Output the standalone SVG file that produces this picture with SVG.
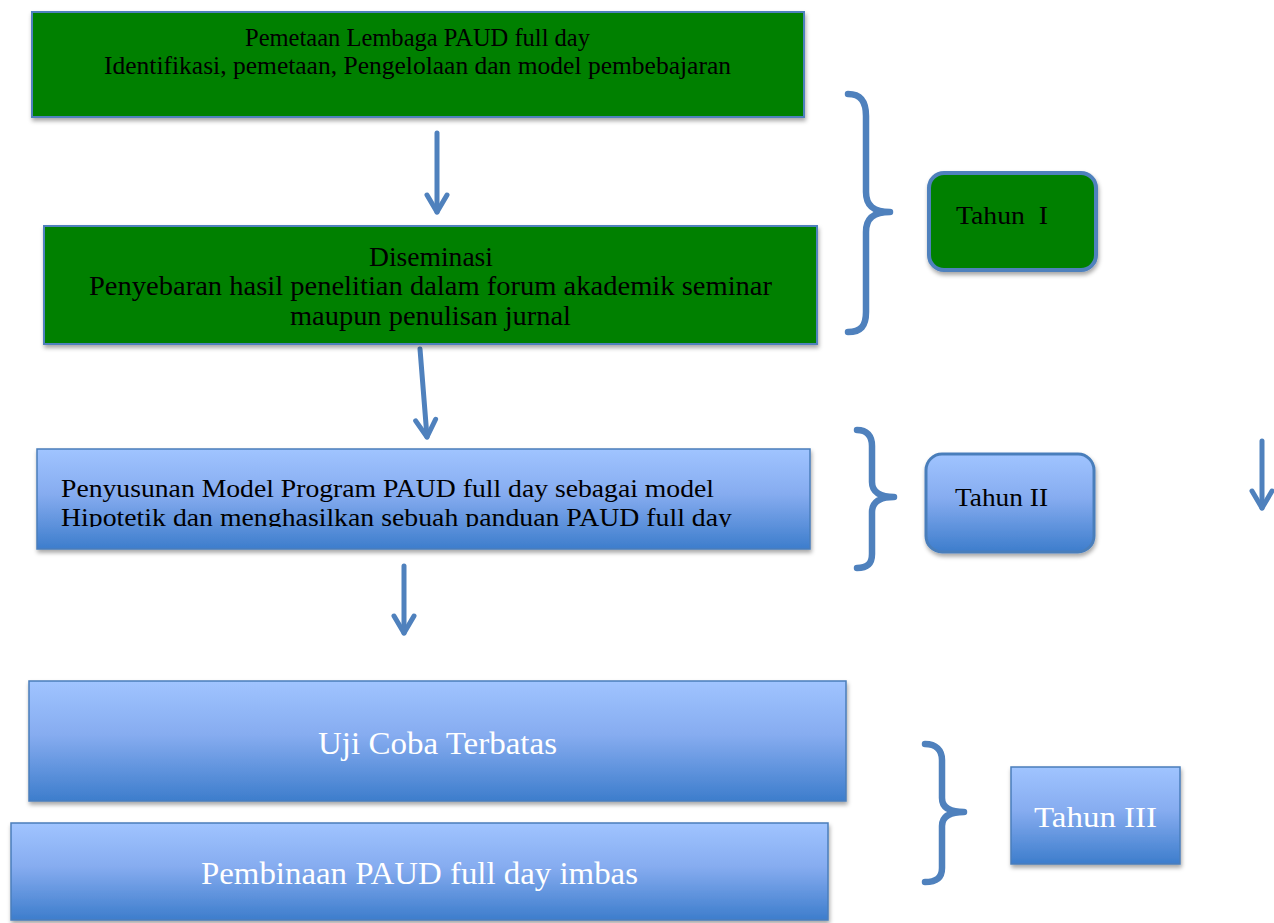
<svg xmlns="http://www.w3.org/2000/svg" width="1274" height="923" viewBox="0 0 1274 923">
  <style>
    .t { font-family: "Liberation Serif", "DejaVu Serif", serif; fill: #000; white-space: pre; }
    .w { fill: #ffffff; }
    .green { fill: #008000; stroke: #4f81bd; stroke-width: 2; }
    .blue { fill: url(#blueGrad); stroke: #4a7ebb; stroke-width: 1.5; }
    .brace { fill: none; stroke: #4f81bd; stroke-width: 6.5; stroke-linecap: round; stroke-linejoin: round; }
    .arrow { fill: none; stroke: #4f81bd; stroke-width: 5; stroke-linecap: round; marker-end: url(#chev); }
  </style>
  <defs>
    <linearGradient id="blueGrad" x1="0" y1="0" x2="0" y2="1">
      <stop offset="0" stop-color="#a0c4ff"/>
      <stop offset="0.45" stop-color="#86acf0"/>
      <stop offset="1" stop-color="#3d7dcc"/>
    </linearGradient>
    <filter id="shadow" x="-5%" y="-10%" width="110%" height="130%">
      <feDropShadow dx="1" dy="3" stdDeviation="2" flood-color="#000" flood-opacity="0.35"/>
    </filter>
    <marker id="chev" markerUnits="userSpaceOnUse" orient="auto" overflow="visible" refX="0" refY="0" markerWidth="1" markerHeight="1">
      <path d="M-17,-10 L0,0 L-17,10" fill="none" stroke="#4f81bd" stroke-width="5" stroke-linecap="round" stroke-linejoin="round"/>
    </marker>
    <clipPath id="clipModel">
      <rect x="37" y="449" width="773" height="78"/>
    </clipPath>
  </defs>

  <!-- flow connectors -->
  <g id="connectors">
    <line class="arrow" x1="437" y1="133" x2="437" y2="212"/>
    <line class="arrow" x1="420" y1="349" x2="427" y2="437"/>
    <line class="arrow" x1="404" y1="566" x2="404" y2="633"/>
    <line class="arrow" x1="1262" y1="441" x2="1262" y2="508"/>
  </g>

  <!-- year braces -->
  <g id="braces">
    <path class="brace" d="M848,94 C861,94 866,102 866,116 L866,192 C866,206 874,212 890,212 C874,212 866,218 866,232 L866,312 C866,326 861,332 848,332"/>
    <path class="brace" d="M857,430 C867,430 872,436 872,446 L872,482 C872,492 880,497 894,497 C880,497 872,502 872,512 L872,554 C872,564 867,568 857,568"/>
    <path class="brace" d="M925,744 C936,744 942,750 942,760 L942,798 C942,808 950,812 964,812 C950,812 942,816 942,826 L942,868 C942,878 936,882 925,882"/>
  </g>

  <g id="pemetaan">
    <rect class="green" x="32" y="12" width="772" height="105" filter="url(#shadow)"/>
    <text class="t" x="245" y="46" font-size="26" textLength="345" lengthAdjust="spacingAndGlyphs">Pemetaan Lembaga PAUD full day</text>
    <text class="t" x="104" y="74" font-size="26" textLength="627" lengthAdjust="spacingAndGlyphs">Identifikasi, pemetaan, Pengelolaan dan model pembebajaran</text>
  </g>

  <g id="diseminasi">
    <rect class="green" x="44" y="226" width="773" height="118" filter="url(#shadow)"/>
    <text class="t" x="369" y="266" font-size="27" textLength="124" lengthAdjust="spacingAndGlyphs">Diseminasi</text>
    <text class="t" x="89" y="295" font-size="27" textLength="683" lengthAdjust="spacingAndGlyphs">Penyebaran hasil penelitian dalam forum akademik seminar</text>
    <text class="t" x="290" y="325" font-size="27" textLength="281" lengthAdjust="spacingAndGlyphs">maupun penulisan jurnal</text>
  </g>

  <g id="penyusunan">
    <rect class="blue" x="37" y="449" width="773" height="100" filter="url(#shadow)"/>
    <g clip-path="url(#clipModel)">
      <text class="t" x="61" y="497" font-size="26" textLength="653" lengthAdjust="spacingAndGlyphs">Penyusunan Model Program PAUD full day sebagai model</text>
      <text class="t" x="61" y="526" font-size="26" textLength="671" lengthAdjust="spacingAndGlyphs">Hipotetik dan menghasilkan sebuah panduan PAUD full day</text>
    </g>
  </g>

  <g id="uji-coba">
    <rect class="blue" x="29" y="681" width="817" height="120" filter="url(#shadow)"/>
    <text class="t w" x="318" y="754" font-size="32" textLength="239" lengthAdjust="spacingAndGlyphs">Uji Coba Terbatas</text>
  </g>

  <g id="pembinaan">
    <rect class="blue" x="11" y="823" width="817" height="97" filter="url(#shadow)"/>
    <text class="t w" x="201" y="884" font-size="32" textLength="437" lengthAdjust="spacingAndGlyphs">Pembinaan PAUD full day imbas</text>
  </g>

  <g id="tahun-1">
    <rect x="929" y="173" width="167" height="97" rx="15" fill="#008000" stroke="#4f81bd" stroke-width="4" filter="url(#shadow)"/>
    <text class="t" x="956" y="224" font-size="26" textLength="92" lengthAdjust="spacingAndGlyphs">Tahun  I</text>
  </g>

  <g id="tahun-2">
    <rect x="926" y="454" width="168" height="98" rx="16" fill="url(#blueGrad)" stroke="#4a7ebb" stroke-width="3" filter="url(#shadow)"/>
    <text class="t" x="955" y="506" font-size="26" textLength="93" lengthAdjust="spacingAndGlyphs">Tahun II</text>
  </g>

  <g id="tahun-3">
    <rect x="1011" y="767" width="169" height="97" fill="url(#blueGrad)" stroke="#4a7ebb" stroke-width="1.5" filter="url(#shadow)"/>
    <text class="t w" x="1034" y="827" font-size="30" textLength="123" lengthAdjust="spacingAndGlyphs">Tahun III</text>
  </g>
</svg>
